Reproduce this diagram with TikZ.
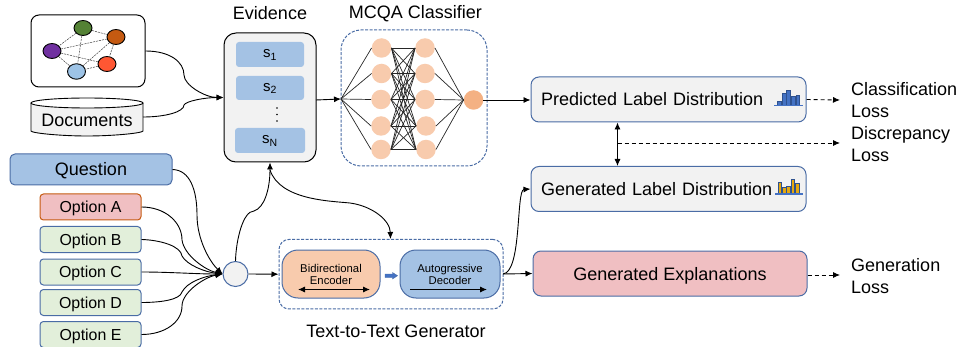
\documentclass[tikz,border=0pt]{standalone}
\usepackage{fontspec}
\setmainfont{Liberation Sans}
\usetikzlibrary{arrows.meta,calc,shapes.geometric}
\definecolor{edgeblue}{HTML}{4A6CA5}
\definecolor{lightblue}{HTML}{A4C2E4}
\definecolor{softgrey}{HTML}{F2F2F2}
\definecolor{softred}{HTML}{F0BFC2}
\definecolor{softgreen}{HTML}{E2EFDA}
\definecolor{softorange}{HTML}{F8CBAD}
\definecolor{strongorange}{HTML}{F4B183}
\definecolor{gGreen}{HTML}{548235}
\definecolor{gOrange}{HTML}{C55A11}
\definecolor{gPurple}{HTML}{7030A0}
\definecolor{gRed}{HTML}{FF5733}
\definecolor{gBlue}{HTML}{9DC3E6}
\definecolor{iconBlue}{HTML}{4472C4}
\definecolor{iconDark}{HTML}{2F528F}
\definecolor{iconGold}{HTML}{E5A810}
\newcommand{\fs}[1]{\fontsize{#1}{#1}\selectfont}
\tikzset{
  x=1pt,y=-1pt,
  tip/.style={-{Latex[length=7pt,width=6pt]}},
  tiptwo/.style={{Latex[length=7pt,width=6pt]}-{Latex[length=7pt,width=6pt]}},
  conn/.style={draw=black,line width=0.9pt},
  dash conn/.style={conn,dash pattern=on 4pt off 3pt,tip},
  box/.style={draw=edgeblue,line width=1pt,rounded corners=#1,inner sep=0pt,align=center},
  box/.default=6pt,
  mainbox/.style={box=8pt,fill=softgrey,minimum width=275pt,minimum height=45pt,font=\fs{18},text height=13pt,text depth=0pt},
  optbox/.style={box=3.5pt,fill=softgreen,minimum width=101pt,minimum height=26pt,font=\fs{15.9},text height=11.5pt,text depth=0pt},
  sbox/.style={rounded corners=3pt,fill=lightblue,inner sep=0pt,font=\fs{15},text height=7pt,text depth=0pt},
  gnode/.style={ellipse,draw=black,line width=0.9pt,minimum width=18pt,minimum height=15pt,inner sep=0pt},
  gedge/.style={draw=black!75,line width=0.5pt,dash pattern=on 2pt off 1pt},
  nn/.style={circle,fill=softorange,minimum size=19.5pt,inner sep=0pt},
  nnline/.style={draw=black!85,line width=0.7pt},
  lab/.style={inner sep=0pt,font=\fs{18},align=left,anchor=north west},
  captext/.style={inner sep=0pt,font=\fs{18}},
  dashedframe/.style={draw=edgeblue,line width=1pt,dash pattern=on 3pt off 1.5pt,inner sep=0pt},
  smalltext/.style={inner sep=0pt,font=\fs{11.3},align=center}
}
\begin{document}
\begin{tikzpicture}
\useasboundingbox (0,0) rectangle (960,347);

% knowledge graph
\node[draw=black,line width=1pt,rounded corners=8pt,minimum width=114pt,minimum height=72pt,inner sep=0pt] (graph) at (88,51) {};
\node[gnode,fill=gGreen] (ga) at (83,28) {};
\node[gnode,fill=gOrange] (gb) at (116,37) {};
\node[gnode,fill=gPurple] (gc) at (52,51) {};
\node[gnode,fill=gRed] (gd) at (107,64) {};
\node[gnode,fill=gBlue,minimum height=15.5pt] (ge) at (76.5,71.5) {};
\foreach \p/\q in {ga/gb,ga/gc,ga/ge,gb/gc,gb/gd,gb/ge,gc/gd,gc/ge,gd/ge}
  \draw[gedge] (\p) -- (\q);

% documents cylinder
\draw[draw=black,line width=0.9pt,fill=softgrey] (31,103) -- (31,131)
  .. controls (31,133) and (60,136) .. (87,136) .. controls (114,136) and (143,133) .. (143,131) -- (143,103);
\draw[draw=black,line width=0.9pt,fill=white] (87,103) ellipse [x radius=56pt,y radius=5pt];
\node[inner sep=0pt,font=\fs{18},text height=13pt,text depth=0pt] (doclab) at (87,120) {Documents};

% evidence
\node[captext] (evlab) at (270,13.5) {Evidence};
\node[draw=black,line width=1pt,fill=softgrey,rounded corners=12pt,minimum width=92pt,minimum height=129pt,inner sep=0pt] (ev) at (270,97.5) {};
\node[sbox,minimum width=68pt,minimum height=25pt] (s1) at (270,54.5) {s\textsubscript{1}};
\node[sbox,minimum width=68pt,minimum height=24pt] (s2) at (270,88) {s\textsubscript{2}};
\node[sbox,minimum width=70pt,minimum height=25pt] (sn) at (270,140.5) {s\textsubscript{N}};
\foreach \yy/\nm in {108/d1,114.5/d2,121/d3}
  \node[circle,fill=black,minimum size=1.8pt,inner sep=0pt] (\nm) at (277,\yy) {};

% classifier
\node[captext] (mclab) at (415.5,13.5) {MCQA Classifier};
\node[dashedframe,rounded corners=20pt,minimum width=146pt,minimum height=136pt] (mc) at (414,98) {};
\coordinate (nnin) at (341,99);
\foreach \i/\a/\b/\c in {1/381.5/425/48,2/381.5/425/73.5,3/381/425/99.5,4/381/426/126,5/381/426/149.5}{
  \node[nn] (l\i) at (\a,\c) {};
  \node[nn] (r\i) at (\b,\c) {};
}
\node[nn,fill=strongorange] (out) at (473.5,100) {};
\foreach \i in {1,...,5}{
  \draw[nnline] (nnin) -- (l\i.west);
  \draw[nnline] (r\i.east) -- (out.west);
  \foreach \j in {1,...,5}
    \draw[nnline] (l\i.east) -- (r\j.west);
}

% right column
\node[mainbox,text width=255pt,align=left] (pred) at (668.5,99.5) {Predicted Label Distribution};
\node[mainbox,text width=255pt,align=left] (gen) at (668.5,189) {Generated Label Distribution};
\node[mainbox,fill=softred,minimum width=274pt,align=center] (expl) at (670,273.5) {Generated Explanations};

% chart icons
\foreach \xa/\xb/\yy in {777.3/781/101,782/786/93.3,786.7/790.7/90,791.3/795/96.7,796/799.7/95.7}
  \filldraw[fill=iconBlue,draw=iconDark,line width=0.5pt] (\xa,\yy) rectangle (\xb,105);
\draw[iconBlue,line width=1.3pt] (774,105.7) -- (803,105.7);
\foreach \xa/\xb/\yy in {778.3/781.7/182.7,782.7/786/187.7,786.7/790/186.7,791/794.7/179,795.3/799/183.3}
  \filldraw[fill=iconGold,draw=iconDark,line width=0.5pt] (\xa,\yy) rectangle (\xb,193.5);
\draw[iconBlue,line width=1.3pt] (775,194) -- (803,194);

% labels on the right
\node[lab] (cl) at (851,82) {Classification\\[4pt]Loss};
\node[lab] (dl) at (851,126.5) {Discrepancy\\[4pt]Loss};
\node[lab] (gl) at (851,258.5) {Generation\\[4pt]Loss};
\coordinate (clend) at (840,100);
\coordinate (dlend) at (840,143);
\coordinate (glend) at (840,275);

% question and options
\node[box=5pt,fill=lightblue,minimum width=162pt,minimum height=31pt,font=\fs{18},text height=13pt,text depth=0pt] (q) at (91,169.5) {Question};
\node[optbox,fill=softred,draw=gOrange] (oa) at (90.5,207) {Option A};
\node[optbox] (ob) at (90.5,239.5) {Option B};
\node[optbox] (oc) at (90.5,272) {Option C};
\node[optbox] (od) at (90.5,302.5) {Option D};
\node[optbox] (oe) at (90.5,334.5) {Option E};
\node[circle,draw=edgeblue,line width=1pt,fill=softgrey,minimum size=25pt,inner sep=0pt] (mix) at (235.5,274) {};

% generator
\node[dashedframe,rounded corners=10pt,minimum width=224pt,minimum height=69.5pt] (t2t) at (391,274.2) {};
\node[box=16pt,fill=softorange,minimum width=98pt,minimum height=48pt] (enc) at (331,274) {};
\node[box=16pt,fill=lightblue,minimum width=100pt,minimum height=48pt] (dec) at (450,274) {};
\node[smalltext] (enclab) at (331,274.5) {Bidirectional\\[1.5pt]Encoder};
\node[smalltext] (declab) at (450,274.5) {Autogressive\\[1.5pt]Decoder};
\node[captext] (t2tlab) at (396,331.5) {Text-to-Text Generator};
\coordinate (e1) at (298,289.5); \coordinate (e2) at (370,289.5);
\coordinate (d1) at (410,289.5); \coordinate (d2) at (487,289.5);
\draw[conn,tiptwo] (e1) -- (e2);
\draw[conn,tip] (d1) -- (d2);
\draw[draw=edgeblue,fill=iconBlue,line width=0.4pt] (385,274) -- (392.5,274) -- (392.5,272.5) -- (397.5,275.7) -- (392.5,279) -- (392.5,277.5) -- (385,277.5) -- cycle;

% connectors
\coordinate (evin) at (ev.west);
\coordinate (docout) at (143,117);
\draw[conn,tip] (graph.east) .. controls (170,51) and (184,62) .. (184,75) .. controls (184,85) and (205,97.5) .. (evin);
\draw[conn,tip] (docout) .. controls (165,117) and (184,112) .. (184,105) .. controls (186,101) and (205,97.5) .. (evin);
\coordinate (evout) at (316,100);
\draw[conn,tip] (evout) -- (nnin);
\draw[conn,tip] (out.east) -- ($(pred.west)+(0,0.5)$);
\draw[conn,dash conn] (pred.east) -- (clend);
\coordinate (arrowx) at (617.5,143);
\draw[conn,tiptwo] (pred.south -| arrowx) -- (gen.north -| arrowx);
\draw[conn,dash conn] (arrowx) -- (dlend);
\draw[conn,dash conn] (expl.east) ++(0,1.5) -- (glend);

\coordinate (mixin) at (mix.west);
\coordinate (evdown) at (270,170);
\coordinate (t2ttop) at (390.5,239);
\coordinate (decout) at (503,274);
\draw[conn,tip] (q.east) .. controls (190,170) and (197,190) .. (197,215) .. controls (197,240) and (210,262) .. (mixin);
\draw[conn,tip] (oa.east) .. controls (165,207) and (182,222) .. (182,240) .. controls (184,255) and (205,270) .. (mixin);
\draw[conn,tip] (ob.east) .. controls (160,240) and (181,246) .. (182,256) .. controls (187,265) and (205,272) .. (mixin);
\draw[conn,tip] (oc.east) .. controls (170,272) and (195,274) .. (mixin);
\draw[conn,tip] (od.east) .. controls (160,302.5) and (180,300) .. (182,292) .. controls (187,282) and (205,276) .. (mixin);
\draw[conn,tip] (oe.east) .. controls (165,334.5) and (182,322) .. (182,306) .. controls (182,292) and (205,277) .. (mixin);

\draw[conn,tip] (mix.north) .. controls (236,240) and (243,211) .. (254,211) .. controls (264,208) and (270,190) .. (ev.south);
\draw[conn,tip] (evdown) .. controls (280,200) and (330,201) .. (350,203) .. controls (372,206) and (390,220) .. (t2ttop);
\draw[conn,tip] (mix.east) -- (t2t.west);
\draw[conn,tip] (decout) .. controls (522,272) and (516,190) .. (gen.west);
\draw[conn,tip] (decout) -- (expl.west);
\end{tikzpicture}
\end{document}
